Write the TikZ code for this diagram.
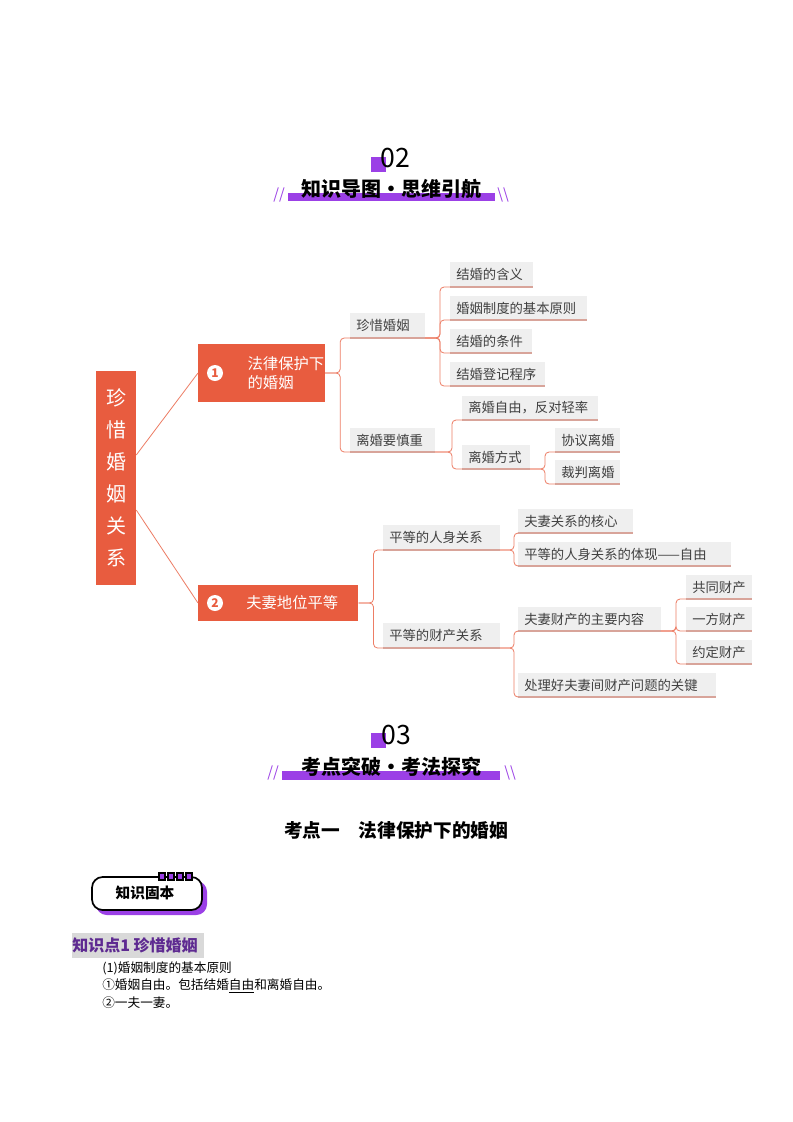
\documentclass[tikz,border=0pt]{standalone}
\usepackage{fontspec}
\setmainfont{Noto Sans CJK SC}
\newfontfamily\cjkb[BoldFont={Noto Sans CJK SC Bold}]{Noto Sans CJK SC}
\definecolor{org}{HTML}{E85C3F}
\definecolor{pur}{HTML}{9B40E6}
\definecolor{gfill}{HTML}{EFEFEF}
\definecolor{gline}{HTML}{D8A49A}
\definecolor{kpur}{HTML}{5E2A91}
\tikzset{
 px/.style={x=0.75pt,y=-0.75pt},
 orgbox/.style={fill=org,text=white,inner sep=0pt,font=\fontsize{11.5}{14}\selectfont,align=left},
 gbox/.style={fill=gfill,inner sep=0pt,font=\fontsize{10}{12}\selectfont,text=black!75,anchor=north west,minimum height=18pt,text height=8pt,text depth=2pt},
 uline/.style={draw=gline,line width=0.8pt},
 conn/.style={draw=org!80,line width=0.6pt,rounded corners=3pt},
 num/.style={circle,fill=white,text=org,inner sep=0pt,minimum size=12pt,font=\fontsize{9}{9}\selectfont\bfseries},
 htitle/.style={font=\fontsize{15}{15}\selectfont\bfseries},
 slash/.style={text=pur,font=\fontsize{11}{11}\selectfont},
}
\newcommand{\gnode}[4]{% name, x, y, text; width auto
 \node[gbox,minimum width=#4] (#1) at (#2,#3) {\hspace*{5pt}};
}
\begin{document}
\begin{tikzpicture}[px]
\useasboundingbox (0,0) rectangle (793,1122);
\fill[white] (0,0) rectangle (793,1122);
% header 02
\fill[pur] (371,157) rectangle (386,172);
\node (n02) at (395,158) {\fontsize{20}{20}\selectfont\addfontfeatures{}02};
\fill[pur] (288,193) rectangle (495,201);
\node[htitle] (t02) at (391,189) {知识导图·思维引航};
\node[slash] (s1) at (279,195) {//};
\node[slash] (s2) at (503,195) {\textbackslash\textbackslash};
% root
\node[orgbox,minimum width=30pt,minimum height=160pt,align=center,font=\fontsize{15}{24}\selectfont] (root) at (116,478) {珍\\惜\\婚\\姻\\关\\系};
% level 1
\node[orgbox,minimum width=95pt,minimum height=43pt,anchor=west,text width=69pt] (n1) at (198,373) {\hspace*{24pt}法律保护下\\\hspace*{24pt}的婚姻};
\node[num] (c1) at (215,373) {1};
\node[orgbox,minimum width=120pt,minimum height=27pt,anchor=west,text width=96pt] (n2) at (198,603) {\hspace*{24pt}夫妻地位平等};
\node[num] (c2) at (215,603) {2};
\draw[conn] (root.east|-0,455) coordinate (r1) -- (n1.west);
\draw[conn] (root.east|-0,510) coordinate (r2) -- (n2.west);
% grey boxes
\newcommand{\gb}[6]{% name x1 y1 x2 y2 text
 \fill[gfill] (#2,#3) rectangle (#4,#5);
 \draw[uline] (#2,#5) -- (#4,#5);
 \node[anchor=west,inner sep=0pt,font=\fontsize{10}{12}\selectfont,text=black!75] (#1t) at (#2+6,{(#3+#5)/2}) {#6};
 \coordinate (#1sw) at (#2,#5);
 \coordinate (#1se) at (#4,#5);
}
\gb{a}{350}{313}{425}{338}{珍惜婚姻}
\gb{b}{350}{428}{435}{452}{离婚要慎重}
\gb{a1}{450}{262}{533}{287}{结婚的含义}
\gb{a2}{450}{296}{587}{320}{婚姻制度的基本原则}
\gb{a3}{450}{329}{532}{353}{结婚的条件}
\gb{a4}{450}{362}{545}{386}{结婚登记程序}
\gb{b1}{462}{396}{598}{420}{离婚自由，反对轻率}
\gb{b2}{462}{445}{530}{469}{离婚方式}
\gb{b21}{555}{428}{620}{452}{协议离婚}
\gb{b22}{555}{460}{620}{484}{裁判离婚}
\gb{c}{383}{525}{500}{550}{平等的人身关系}
\gb{d}{383}{623}{500}{648}{平等的财产关系}
\gb{c1}{518}{509}{633}{533}{夫妻关系的核心}
\gb{c2}{518}{542}{731}{566}{平等的人身关系的体现——自由}
\gb{d1}{518}{607}{661}{631}{夫妻财产的主要内容}
\gb{d2}{518}{673}{716}{697}{处理好夫妻间财产问题的关键}
\gb{e1}{686}{575}{752}{599}{共同财产}
\gb{e2}{686}{607}{752}{631}{一方财产}
\gb{e3}{686}{640}{752}{664}{约定财产}
% connectors
\foreach \c in {asw,bsw}{\draw[conn] (n1.east) -- ++(15,0) |- (\c);}
\foreach \c in {a1sw,a2sw,a3sw,a4sw}{\draw[conn] (ase) -- ++(15,0) |- (\c);}
\foreach \c in {b1sw,b2sw}{\draw[conn] (bse) -- ++(17,0) |- (\c);}
\foreach \c in {b21sw,b22sw}{\draw[conn] (b2se) -- ++(15,0) |- (\c);}
\foreach \c in {csw,dsw}{\draw[conn] (n2.east) -- ++(15,0) |- (\c);}
\foreach \c in {c1sw,c2sw}{\draw[conn] (cse) -- ++(14,0) |- (\c);}
\foreach \c in {d1sw,d2sw}{\draw[conn] (dse) -- ++(14,0) |- (\c);}
\foreach \c in {e1sw,e2sw,e3sw}{\draw[conn] (d1se) -- ++(15,0) |- (\c);}
% header 03
\fill[pur] (371,733) rectangle (386,748);
\node (n03) at (396,735) {\fontsize{20}{20}\selectfont 03};
\fill[pur] (282,771) rectangle (500,780);
\node[htitle] (t03) at (391,767) {考点突破·考法探究};
\node[slash] (s3) at (273,773) {//};
\node[slash] (s4) at (510,773) {\textbackslash\textbackslash};
\node[font=\fontsize{14}{14}\selectfont\bfseries] (kd) at (396,830) {考点一\quad 法律保护下的婚姻};
% badge
\fill[pur,rounded corners=8pt] (96,881) rectangle (207,915);
\draw[line width=1.3pt,fill=white,rounded corners=8pt] (92,877) rectangle (202,910);
\foreach \i in {0,1,2,3}{\draw[fill=pur,line width=0.8pt] (159+\i*9,873) rectangle (165+\i*9,880);}
\node[font=\fontsize{11}{11}\selectfont\bfseries] (bt) at (145,893) {知识固本};
% knowledge point
\fill[black!15] (72,933) rectangle (204,958);
\node[anchor=west,text=kpur,inner sep=0pt,font=\fontsize{12}{12}\selectfont\bfseries] (kp) at (72,945) {知识点1\ 珍惜婚姻};
\node[anchor=west,inner sep=0pt,font=\fontsize{9.5}{10}\selectfont] (l1) at (102,968) {(1)婚姻制度的基本原则};
\node[anchor=west,inner sep=0pt,font=\fontsize{9.5}{10}\selectfont] (l2) at (102,986) {①婚姻自由。包括结婚\underline{自由}和离婚自由。};
\node[anchor=west,inner sep=0pt,font=\fontsize{9.5}{10}\selectfont] (l3) at (102,1003) {②一夫一妻。};
\end{tikzpicture}
\end{document}
